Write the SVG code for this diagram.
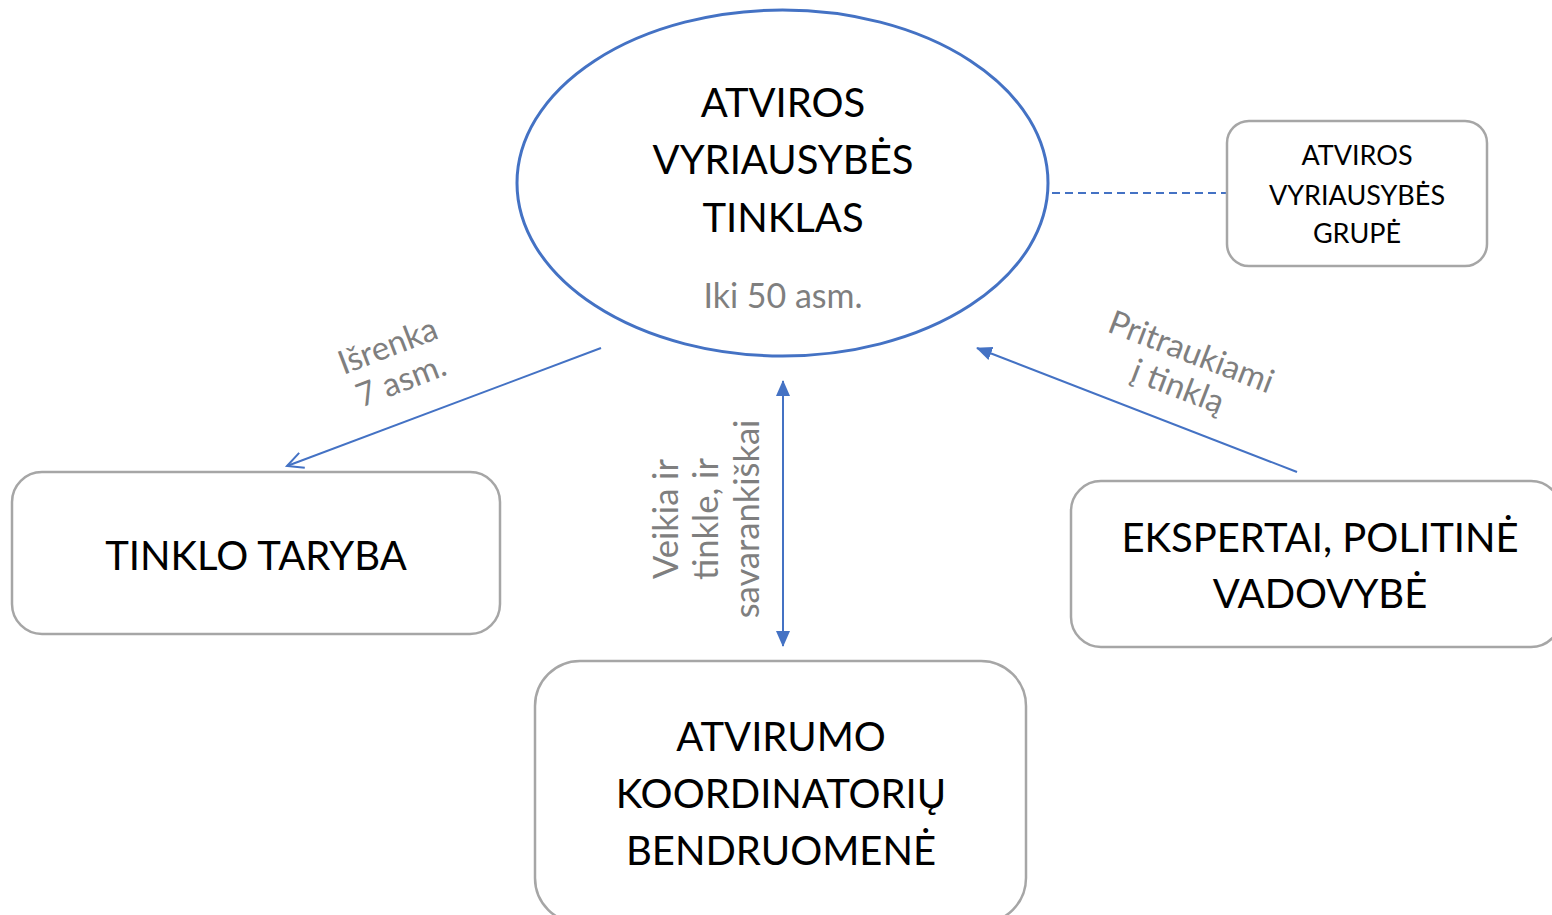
<svg xmlns="http://www.w3.org/2000/svg" width="1552" height="915" viewBox="0 0 1552 915">
<defs>
<style>
.t{font-family:Lato,"Liberation Sans",sans-serif;fill:#000;text-anchor:middle}
.g{font-family:Lato,"Liberation Sans",sans-serif;fill:#7f7f7f;text-anchor:middle}
.box{fill:#fff;stroke:#a6a6a6;stroke-width:2.5}
.con{stroke:#4472c4;stroke-width:2;fill:none}
</style>
<marker id="open" viewBox="0 0 20 20" refX="18" refY="10" markerWidth="20" markerHeight="20" markerUnits="userSpaceOnUse" orient="auto">
<path d="M2,2 L18,10 L2,18" fill="none" stroke="#4472c4" stroke-width="2"/>
</marker>
<marker id="tri" viewBox="0 0 16 16" refX="15" refY="8" markerWidth="16" markerHeight="16" markerUnits="userSpaceOnUse" orient="auto-start-reverse">
<path d="M0,1 L16,8 L0,15 Z" fill="#4472c4"/>
</marker>
</defs>
<rect width="1552" height="915" fill="#fff"/>
<g id="connectors">
<line class="con" x1="1052" y1="193" x2="1228" y2="193" stroke-width="1.5" stroke-dasharray="8 5"/>
<line class="con" x1="601" y1="348" x2="287" y2="466" marker-end="url(#open)"/>
<line class="con" x1="1297" y1="472" x2="977" y2="348" marker-end="url(#tri)"/>
<line class="con" x1="783" y1="381" x2="783" y2="646" marker-start="url(#tri)" marker-end="url(#tri)"/>
<g transform="translate(394,362) rotate(-21)">
<text class="g" x="0" y="-6" font-size="33">Išrenka</text>
<text class="g" x="0" y="31" font-size="33">7 asm.</text>
</g>
<g transform="translate(1185,368) rotate(21)">
<text class="g" x="0" y="-6" font-size="33">Pritraukiami</text>
<text class="g" x="0" y="31" font-size="33">į tinklą</text>
</g>
<g transform="translate(0,519) rotate(-90)">
<text class="g" x="0" y="678" font-size="34.5">Veikia ir</text>
<text class="g" x="0" y="718" font-size="34.5">tinkle, ir</text>
<text class="g" x="0" y="759" font-size="34.5">savarankiškai</text>
</g>
</g>
<g id="n-tinklas">
<ellipse cx="782.5" cy="183" rx="265.5" ry="173" fill="#fff" stroke="#4472c4" stroke-width="3"/>
<text class="t" x="783" y="117" font-size="40">ATVIROS</text>
<text class="t" x="783" y="174" font-size="40">VYRIAUSYBĖS</text>
<text class="t" x="783" y="232" font-size="40">TINKLAS</text>
<text class="g" x="783" y="308" font-size="34">Iki 50 asm.</text>
</g>
<g id="n-grupe">
<rect class="box" x="1227" y="121" width="260" height="145" rx="22"/>
<text class="t" x="1357" y="165" font-size="27">ATVIROS</text>
<text class="t" x="1357" y="205" font-size="27">VYRIAUSYBĖS</text>
<text class="t" x="1357" y="243" font-size="27">GRUPĖ</text>
</g>
<g id="n-taryba">
<rect class="box" x="12" y="472" width="488" height="162" rx="30"/>
<text class="t" x="256" y="570" font-size="40">TINKLO TARYBA</text>
</g>
<g id="n-ekspertai">
<rect class="box" x="1071" y="481" width="490" height="166" rx="30"/>
<text class="t" x="1320" y="552" font-size="40">EKSPERTAI, POLITINĖ</text>
<text class="t" x="1320" y="608" font-size="40">VADOVYBĖ</text>
</g>
<g id="n-koordinatoriai">
<rect class="box" x="535" y="661" width="491" height="262" rx="45"/>
<text class="t" x="781" y="751" font-size="40">ATVIRUMO</text>
<text class="t" x="781" y="808" font-size="40">KOORDINATORIŲ</text>
<text class="t" x="781" y="865" font-size="40">BENDRUOMENĖ</text>
</g>
</svg>
